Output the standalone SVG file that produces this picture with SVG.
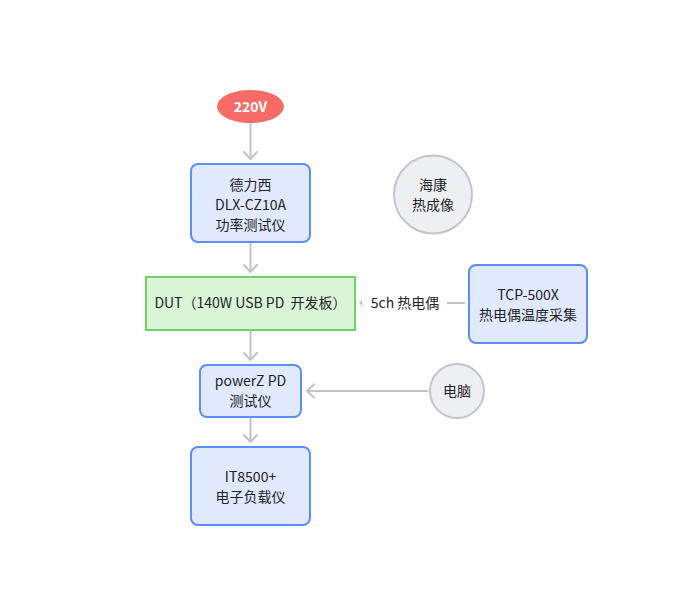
<svg xmlns="http://www.w3.org/2000/svg" width="673" height="590" viewBox="0 0 673 590">
<style>
text{font-family:"Noto Sans CJK SC","Noto Sans",sans-serif;font-size:14px;fill:#1f2329;text-anchor:middle}
.box{fill:#e1e9fd;stroke:#5b8ef7;stroke-width:2}
.dut{fill:#d9f5d6;stroke:#6dd069;stroke-width:2}
.circ{fill:#eeeff2;stroke:#c3c4c7;stroke-width:2}
.edge{stroke:#c2c3c6;stroke-width:2;fill:none}
.head{stroke:#c2c3c6;stroke-width:2;fill:none;stroke-linecap:round;stroke-linejoin:round}
</style>
<rect width="673" height="590" fill="#ffffff"/>
<g id="edges">
<line class="edge" x1="250.5" y1="123" x2="250.5" y2="159"/>
<polyline class="head" points="244,152 250.5,159 257,152"/>
<line class="edge" x1="250.5" y1="243" x2="250.5" y2="272"/>
<polyline class="head" points="244,265 250.5,272 257,265"/>
<line class="edge" x1="250.5" y1="331" x2="250.5" y2="360"/>
<polyline class="head" points="244,353 250.5,360 257,353"/>
<line class="edge" x1="250.5" y1="418" x2="250.5" y2="442"/>
<polyline class="head" points="244,435 250.5,442 257,435"/>
<line class="edge" x1="428" y1="391" x2="307" y2="391"/>
<polyline class="head" points="314,384.5 307,391 314,397.5"/>
<line class="edge" x1="447" y1="303" x2="465" y2="303"/>
<polygon points="362,300 359,303 362,306" fill="#c2c3c6"/>
<text x="405" y="308">5ch 热电偶</text>
</g>
<g id="n220v">
<ellipse cx="250.5" cy="106.5" rx="33.5" ry="16.5" fill="#f76b66"/>
<text x="250.5" y="111.5" style="fill:#ffffff;font-weight:bold">220V</text>
</g>
<g id="delixi">
<rect class="box" x="191" y="164" width="119" height="78" rx="7"/>
<text x="250.5" y="190">德力西</text>
<text x="250.5" y="210">DLX-CZ10A</text>
<text x="250.5" y="230">功率测试仪</text>
</g>
<g id="dut">
<rect class="dut" x="146" y="277" width="209" height="53"/>
<text x="250.5" y="308" xml:space="preserve">DUT（140W USB PD  开发板）</text>
</g>
<g id="powerz">
<rect class="box" x="200" y="365" width="101" height="52" rx="7"/>
<text x="250.5" y="386">powerZ PD</text>
<text x="250.5" y="406">测试仪</text>
</g>
<g id="it8500">
<rect class="box" x="191" y="447" width="119" height="78" rx="7"/>
<text x="250.5" y="482">IT8500+</text>
<text x="250.5" y="502">电子负载仪</text>
</g>
<g id="haikang">
<circle class="circ" cx="433" cy="194.5" r="39"/>
<text x="433" y="190">海康</text>
<text x="433" y="210">热成像</text>
</g>
<g id="tcp">
<rect class="box" x="469" y="265" width="118" height="78" rx="7"/>
<text x="528" y="300">TCP-500X</text>
<text x="528" y="320">热电偶温度采集</text>
</g>
<g id="pc">
<circle class="circ" cx="457" cy="391" r="27"/>
<text x="457" y="396">电脑</text>
</g>
</svg>
